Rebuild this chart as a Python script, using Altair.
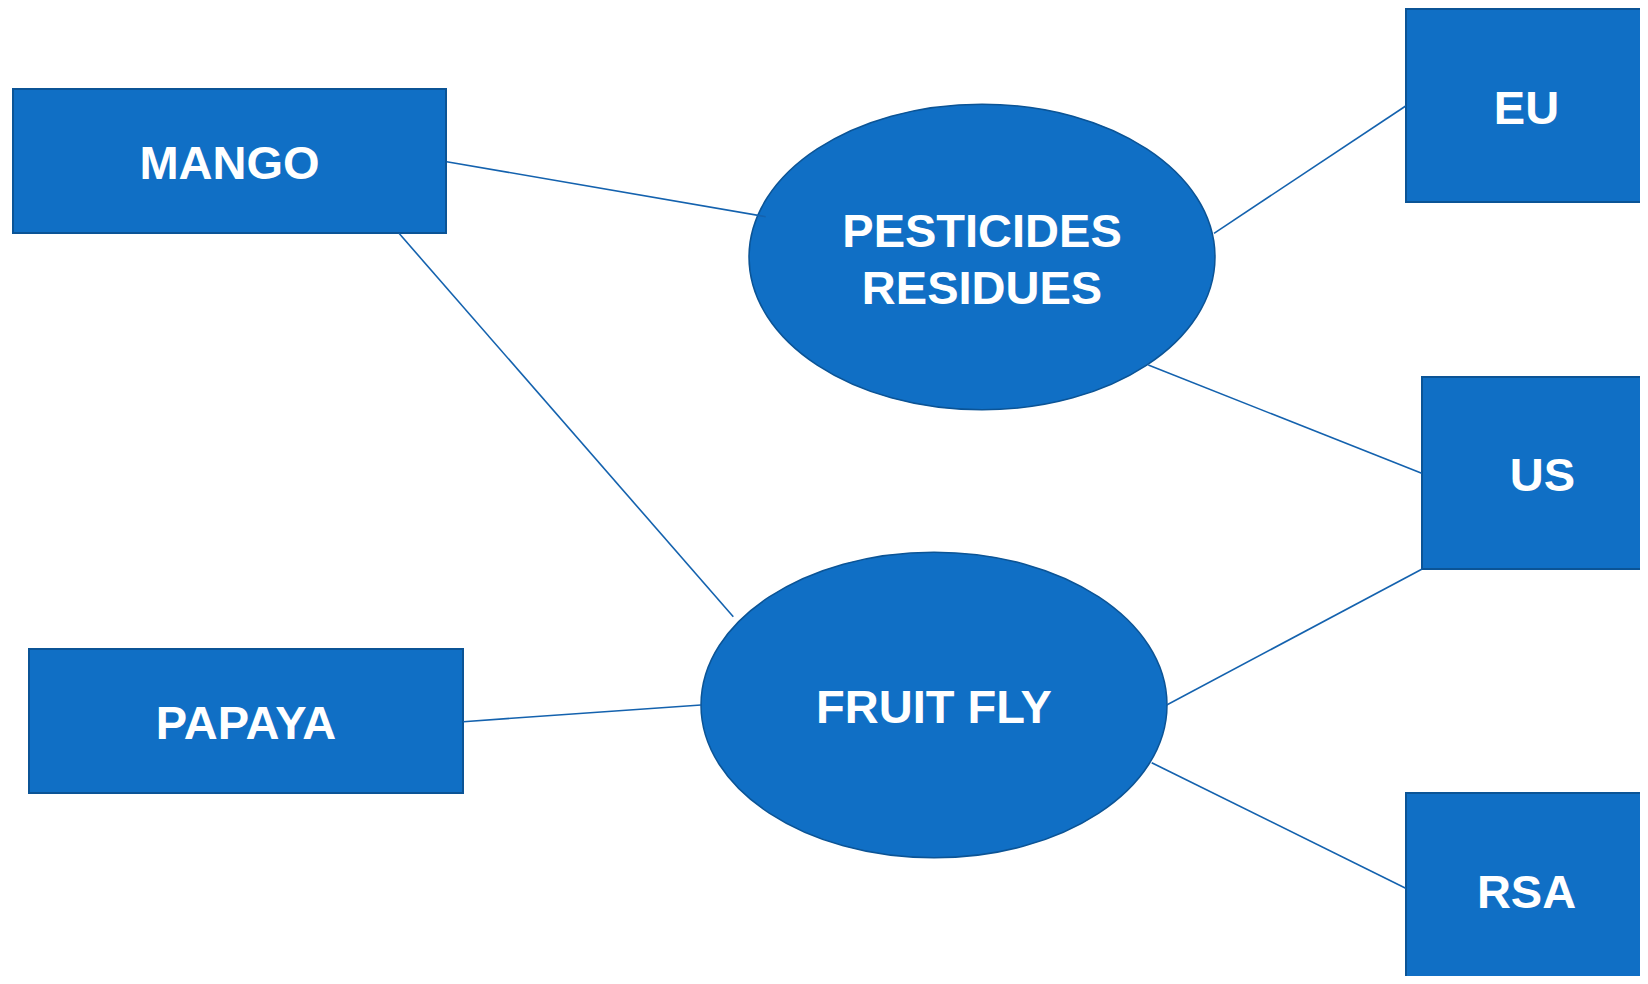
import altair as alt
import pandas as pd

# ---- rectangular nodes (page pixel coordinates) ----
box_names = ["MANGO", "PAPAYA", "EU", "US", "RSA"]
box_left = [13, 29, 1406, 1422, 1406]
box_right = [446, 463, 1647, 1663, 1647]
box_top = [89, 649, 9, 377, 793]
box_bottom = [233, 793, 202, 569, 986]

# ---- elliptical nodes ----
ell_names = ["PESTICIDES\nRESIDUES", "FRUIT FLY"]
ell_cx = [982, 934]
ell_cy = [257, 705]
ell_w = [466, 466]          # full width of each ellipse

# ---- connecting lines ----
link_x1 = [446.7, 399.0, 463.3, 1214.0, 1148.3, 1166.7, 1151.7]
link_y1 = [161.7, 233.3, 721.7, 233.3, 365.0, 705.0, 762.7]
link_x2 = [765.7, 733.3, 701.0, 1405.7, 1421.7, 1421.7, 1405.7]
link_y2 = [216.7, 616.7, 705.0, 106.0, 473.3, 569.3, 888.3]

FILL = "#106FC5"
EDGE = "#0B5496"
LINE = "#1462AE"
ELLIPSE_PATH = "M -1 0 A 1 0.656 0 1 1 1 0 A 1 0.656 0 1 1 -1 0 Z"
LINE_H = 57

W, H = 1632, 968
X0, Y0 = 8, 8
xs = alt.Scale(domain=[X0, X0 + W], nice=False, zero=False)
ys = alt.Scale(domain=[Y0, Y0 + H], nice=False, zero=False, reverse=True)

boxes = pd.DataFrame({
    "name": box_names, "left": box_left, "right": box_right,
    "top": box_top, "bottom": box_bottom,
})
boxes["cx"] = (boxes["left"] + boxes["right"]) / 2
boxes["cy"] = (boxes["top"] + boxes["bottom"]) / 2

ells = pd.DataFrame({"name": ell_names, "cx": ell_cx, "cy": ell_cy, "w": ell_w})
ells["size"] = ells["w"] ** 2

links = pd.DataFrame({"x1": link_x1, "y1": link_y1, "x2": link_x2, "y2": link_y2})

labels = pd.concat([boxes[["name", "cx", "cy"]], ells[["name", "cx", "cy"]]], ignore_index=True)
# centre multi-line labels as a block
labels["ty"] = labels["cy"] - labels["name"].str.count("\n") * LINE_H / 2

rect_layer = alt.Chart(boxes).mark_rect(
    fill=FILL, stroke=EDGE, strokeWidth=2, clip=True
).encode(
    x=alt.X("left:Q", scale=xs, axis=None),
    x2="right:Q",
    y=alt.Y("top:Q", scale=ys, axis=None),
    y2="bottom:Q",
)

ell_layer = alt.Chart(ells).mark_point(
    shape=ELLIPSE_PATH, filled=True, fill=FILL, stroke=EDGE,
    strokeWidth=1.5, opacity=1, fillOpacity=1, strokeOpacity=1
).encode(
    x=alt.X("cx:Q", scale=xs, axis=None),
    y=alt.Y("cy:Q", scale=ys, axis=None),
    size=alt.Size("size:Q", scale=None, legend=None),
)

rule_layer = alt.Chart(links).mark_rule(color=LINE, strokeWidth=1.6).encode(
    x=alt.X("x1:Q", scale=xs, axis=None),
    y=alt.Y("y1:Q", scale=ys, axis=None),
    x2="x2:Q",
    y2="y2:Q",
)

text_layer = alt.Chart(labels).mark_text(
    font="Liberation Sans", fontWeight="bold", fontSize=47, color="white",
    align="center", baseline="middle", lineBreak="\n", lineHeight=LINE_H, dy=4, clip=True
).encode(
    x=alt.X("cx:Q", scale=xs, axis=None),
    y=alt.Y("ty:Q", scale=ys, axis=None),
    text="name:N",
)

chart = alt.layer(rect_layer, ell_layer, rule_layer, text_layer).properties(
    width=W, height=H, padding=0, autosize="none", background="white"
).configure_view(stroke=None)

chart.save("out.html", embed_options={"renderer": "svg", "actions": False})
